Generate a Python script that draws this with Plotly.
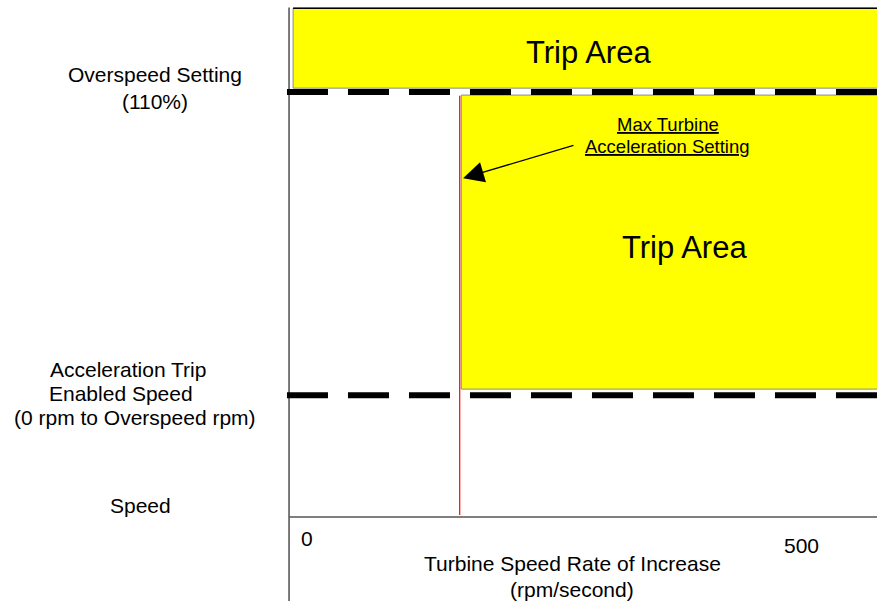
import plotly.graph_objects as go

# speed levels (% of rated speed) and acceleration setting (rpm/second)
overspeed_pct = 110
accel_enable_pct = 31.5
max_accel_setting = 167

# axis extents in data units
x_extent = [-282.8, 575.3]
y_extent = [-21.74, 133.81]

tick_values = [0, 500]
tick_labels = ["0", "500"]

# trip areas (rpm/second, % speed)
trip_top_x = [4, 590]
trip_top_y = [111, 131.7]
trip_accel_x = [168.5, 590]
trip_accel_y = [33.1, 109.2]

W, H = 877, 601
FONT = "Arial, Liberation Sans, sans-serif"


def px(x):
    return x / W


def py(y):
    return 1 - y / H


fig = go.Figure()


def rect(xs, ys, line_col):
    fig.add_trace(go.Scatter(
        x=[xs[0], xs[1], xs[1], xs[0], xs[0]],
        y=[ys[0], ys[0], ys[1], ys[1], ys[0]],
        mode="lines", fill="toself", fillcolor="#ffff00",
        line=dict(color=line_col, width=1), hoverinfo="skip"))


rect(trip_top_x, trip_top_y, "#8a8a8a")
rect(trip_accel_x, trip_accel_y, "#8a8a8a")

# black top edge of the upper trip area
fig.add_trace(go.Scatter(x=trip_top_x, y=[trip_top_y[1]] * 2, mode="lines",
                         line=dict(color="black", width=1.5), hoverinfo="skip"))

# axes lines
fig.add_trace(go.Scatter(x=[0, 0], y=[y_extent[0], trip_top_y[1] + 0.2], mode="lines",
                         line=dict(color="#222", width=1.2), hoverinfo="skip"))
fig.add_trace(go.Scatter(x=[0, x_extent[1]], y=[0, 0], mode="lines",
                         line=dict(color="#555", width=1.5), hoverinfo="skip"))

# max acceleration setting
fig.add_trace(go.Scatter(x=[max_accel_setting] * 2, y=[0.5, overspeed_pct - 1], mode="lines",
                         line=dict(color="#ff0000", width=1.2), hoverinfo="skip"))

# dashed speed levels
for lvl in [overspeed_pct, accel_enable_pct]:
    fig.add_trace(go.Scatter(x=[-2, x_extent[1]], y=[lvl, lvl], mode="lines",
                             line=dict(color="black", width=6, dash="41px,20px"),
                             hoverinfo="skip"))

ann = []


def label(text, x, y, size=21):
    ann.append(dict(text=text, x=px(x), y=py(y), xref="paper", yref="paper",
                    showarrow=False, xanchor="center", yanchor="middle",
                    font=dict(family=FONT, size=size, color="black")))


label("Trip Area", 588, 52, 31)
label("Trip Area", 684, 247, 31)
label("Overspeed Setting<br>(110%)", 155, 88)
label("Acceleration Trip", 128, 369)
label("Enabled Speed", 121, 393)
label("(0 rpm to Overspeed rpm)", 135, 417)
label("Speed", 140, 505)
label("Turbine Speed Rate of Increase", 572, 563)
label("(rpm/second)", 572, 589)
label(tick_labels[0], 307, 538)
label(tick_labels[1], 801, 545)

label("<u>Max Turbine</u>", 668, 124, 18.5)
label("<u>Acceleration Setting</u>", 667, 146, 18.5)

# arrow pointing at the setting line
ann.append(dict(x=170.3, y=87.7, ax=279.8, ay=96.3, xref="x", yref="y",
                axref="x", ayref="y", text="", showarrow=True,
                arrowhead=2, arrowsize=3.2, arrowwidth=1.3, arrowcolor="black"))

fig.update_layout(
    width=W, height=H, margin=dict(l=0, r=0, t=0, b=0),
    paper_bgcolor="white", plot_bgcolor="white", showlegend=False,
    xaxis=dict(range=x_extent, visible=False, fixedrange=True),
    yaxis=dict(range=y_extent, visible=False, fixedrange=True),
    annotations=ann,
)

# drop the default page margin so the figure fills the window
fig.write_html("out.html", config={"displayModeBar": False},
               post_script="document.body.style.margin='0';document.body.style.overflow='hidden';")
